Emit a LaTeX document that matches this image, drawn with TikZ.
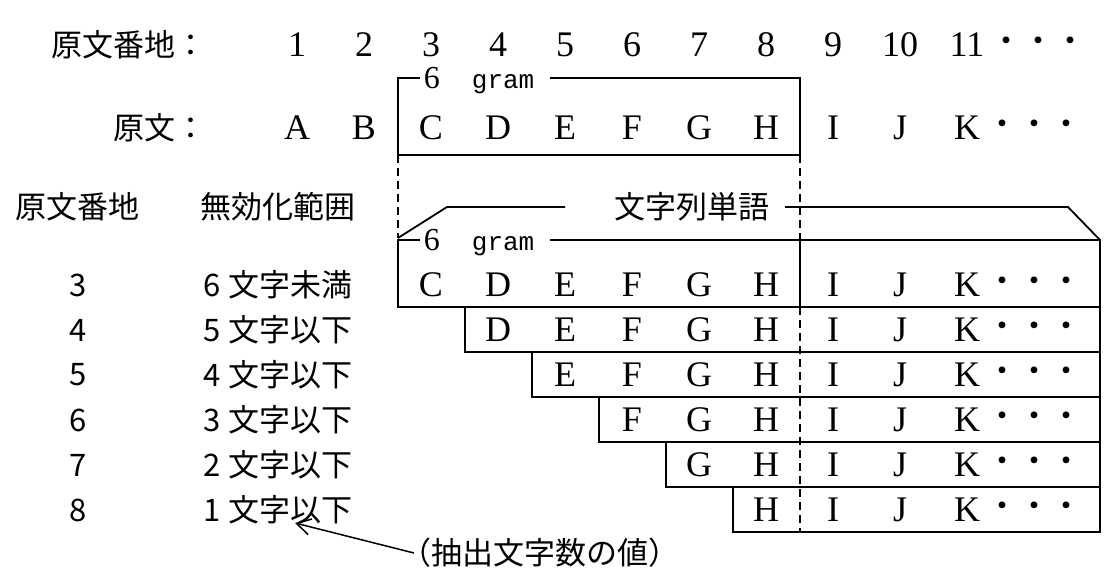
\documentclass[tikz,border=0pt]{standalone}
\usepackage{fontspec}
\setmainfont{Liberation Serif}
\setmonofont{Liberation Mono}
\newfontfamily\jpfont{Noto Sans CJK JP}
\usetikzlibrary{positioning,arrows.meta}

\tikzset{
  lat/.style={font=\fontsize{18}{20}\selectfont, inner sep=0pt},
  jp/.style={font=\jpfont\fontsize{15.5}{18}\selectfont, inner sep=0pt},
  dots/.style={font=\jpfont\fontsize{16}{18}\selectfont, inner sep=0pt, anchor=west},
  gramlabel/.style={font=\fontsize{16}{18}\selectfont, inner sep=0pt, anchor=base west},
  dashline/.style={dash pattern=on 4pt off 2.5pt},
}

\begin{document}
\begin{tikzpicture}[x=0.5pt, y=-0.5pt, line width=0.9pt]
    \useasboundingbox (0,0) rectangle (1114,578);

    % address row
    \node[jp, anchor=east] (addr) at (207,45) {原文番地：};
    \foreach \k in {1,...,11}
        \node[lat] (n\k) at ({230+67*\k},45) {\k};
    \node[dots, right=2pt of n11] (ndots) {・・・};

    % source text row
    \node[jp, anchor=east] (src) at (207,128) {原文：};
    \foreach \l [count=\k] in {A,...,K}
        \node[lat] (s\k) at ({230+67*\k},128) {\l};
    \node[dots] (sdots) at (986,128) {・・・};

    % 6 gram window on the source text
    \draw (420,78) -- (398,78) -- (398,155) -- (800,155) -- (800,78) -- (550,78);
    \node[gramlabel] (g0) at (423,88) {6\hspace{16pt}{\ttfamily\fontsize{13}{15}\selectfont gram}};
    \draw[dashline] (398,155) -- (398,238);
    \draw[dashline] (800,155) -- (800,240);

    % headers
    \node[jp, anchor=west] (hAddr) at (15,207) {原文番地};
    \node[jp, anchor=west] (hRange) at (200,207) {無効化範囲};

    % string word outline
    \draw (398,238) -- (447,207) -- (565,207);
    \draw (785,207) -- (1068,207) -- (1100,240);
    \node[jp] (word) at (692,207) {文字列単語};

    % first row box
    \draw (420,240) -- (398,240) -- (398,307) -- (1100,307) -- (1100,240) -- (550,240);
    \draw (800,240) -- (800,307);
    \node[gramlabel] (g1) at (423,250) {6\hspace{16pt}{\ttfamily\fontsize{13}{15}\selectfont gram}};

    % shifted rows
    \foreach \r in {2,...,6}
        \draw ({331+67*\r},{307+45*(\r-2)}) rectangle (1100,{352+45*(\r-2)});
    \draw[dashline] (800,307) -- (800,532);

    \foreach \r/\lst/\n/\lab in {1/{C,...,K}/3/6 文字未満, 2/{D,...,K}/4/5 文字以下,
                                 3/{E,...,K}/5/4 文字以下, 4/{F,...,K}/6/3 文字以下,
                                 5/{G,...,K}/7/2 文字以下, 6/{H,...,K}/8/1 文字以下} {
        \node[jp] (no\r) at (78,{285+45*(\r-1)}) {\n};
        \node[jp, anchor=west] (lab\r) at (203,{285+45*(\r-1)}) {\lab};
        \foreach \l [count=\i] in \lst
            \node[lat] (c\r-\i) at ({230+67*(\r+1+\i)},{285+45*(\r-1)}) {\l};
        \node[dots] (d\r) at (986,{285+45*(\r-1)}) {・・・};
    }

    % note
    \node[jp, anchor=west] (note) at (400,553) {（抽出文字数の値）};
    \coordinate (tip) at (295,523);
    \draw[-{Straight Barb[length=7pt,width=8pt]}, line width=0.75pt] ([xshift=7pt]note.west) -- (tip);
\end{tikzpicture}
\end{document}
